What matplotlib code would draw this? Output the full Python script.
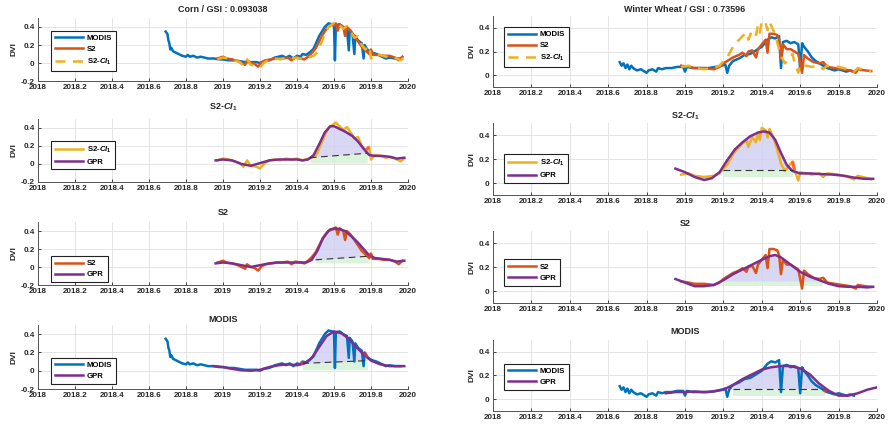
import numpy as np
import matplotlib
matplotlib.use("Agg")
import matplotlib.pyplot as plt

plt.rcParams['font.family'] = ['Liberation Sans', 'DejaVu Sans']
plt.rcParams['mathtext.fontset'] = 'custom'
plt.rcParams['mathtext.it'] = 'Liberation Sans:italic:bold'
plt.rcParams['mathtext.rm'] = 'Liberation Sans:bold'

# ---------------- data ----------------
xticks = [2018, 2018.2, 2018.4, 2018.6, 2018.8, 2019, 2019.2, 2019.4, 2019.6, 2019.8, 2020]
xtick_labels = ['2018', '2018.2', '2018.4', '2018.6', '2018.8', '2019', '2019.2', '2019.4', '2019.6', '2019.8', '2020']
corn_yticks = [-0.2, 0, 0.2, 0.4]
corn_ytick_labels = ['-0.2', '0', '0.2', '0.4']
wheat_yticks = [0, 0.2, 0.4]
wheat_ytick_labels = ['0', '0.2', '0.4']

corn_title = 'Corn / GSI : 0.093038'
wheat_title = 'Winter Wheat / GSI : 0.73596'

corn_modis = [(2018.69, 0.35), (2018.70, 0.32), (2018.705, 0.25), (2018.71, 0.22), (2018.715, 0.15), (2018.72, 0.17),
              (2018.73, 0.13), (2018.74, 0.12), (2018.76, 0.10), (2018.78, 0.08), (2018.80, 0.07), (2018.81, 0.09),
              (2018.82, 0.07), (2018.84, 0.08), (2018.86, 0.06), (2018.88, 0.07), (2018.90, 0.06), (2018.92, 0.05),
              (2018.95, 0.05), (2018.98, 0.04), (2019.00, 0.04), (2019.03, 0.03), (2019.06, 0.03), (2019.09, 0.02),
              (2019.12, 0.01), (2019.15, 0.01), (2019.18, 0.01), (2019.20, 0.00), (2019.22, 0.02), (2019.25, 0.03),
              (2019.28, 0.06), (2019.30, 0.07), (2019.32, 0.08), (2019.34, 0.06), (2019.36, 0.08), (2019.38, 0.05),
              (2019.40, 0.08), (2019.42, 0.07), (2019.43, 0.10), (2019.45, 0.09), (2019.47, 0.12), (2019.49, 0.16),
              (2019.52, 0.30), (2019.55, 0.40), (2019.57, 0.44), (2019.59, 0.43), (2019.60, 0.42), (2019.605, 0.03),
              (2019.61, 0.42), (2019.63, 0.43), (2019.65, 0.40), (2019.67, 0.38), (2019.68, 0.14), (2019.685, 0.36),
              (2019.70, 0.32), (2019.71, 0.10), (2019.715, 0.30), (2019.73, 0.25), (2019.75, 0.22), (2019.76, 0.05),
              (2019.765, 0.20), (2019.78, 0.15), (2019.80, 0.12), (2019.83, 0.10), (2019.86, 0.07), (2019.88, 0.05),
              (2019.90, 0.06), (2019.93, 0.05), (2019.96, 0.05)]

corn_s2 = [(2018.97, 0.05), (2019.00, 0.07), (2019.02, 0.05), (2019.05, 0.04), (2019.08, 0.02), (2019.10, 0.00),
           (2019.12, -0.02), (2019.13, 0.03), (2019.15, 0.00), (2019.17, -0.01), (2019.19, -0.04), (2019.21, 0.01),
           (2019.23, 0.03), (2019.26, 0.04), (2019.29, 0.05), (2019.32, 0.05), (2019.35, 0.06), (2019.37, 0.03),
           (2019.39, 0.06), (2019.42, 0.05), (2019.44, 0.04), (2019.46, 0.07), (2019.48, 0.11), (2019.50, 0.16),
           (2019.52, 0.24), (2019.54, 0.32), (2019.56, 0.38), (2019.58, 0.42), (2019.60, 0.42), (2019.61, 0.44),
           (2019.62, 0.36), (2019.63, 0.43), (2019.65, 0.40), (2019.66, 0.30), (2019.67, 0.40), (2019.69, 0.36),
           (2019.71, 0.30), (2019.73, 0.24), (2019.75, 0.18), (2019.77, 0.14), (2019.79, 0.10), (2019.80, 0.15),
           (2019.81, 0.09), (2019.84, 0.09), (2019.87, 0.08), (2019.90, 0.08), (2019.93, 0.06), (2019.95, 0.03),
           (2019.97, 0.07)]

corn_ci = [(2018.97, 0.04), (2019.00, 0.06), (2019.03, 0.05), (2019.06, 0.03), (2019.09, 0.01), (2019.11, -0.03),
           (2019.13, 0.04), (2019.15, -0.02), (2019.18, -0.03), (2019.20, -0.05), (2019.22, 0.00), (2019.25, 0.04),
           (2019.28, 0.05), (2019.31, 0.04), (2019.34, 0.06), (2019.37, 0.05), (2019.40, 0.06), (2019.43, 0.04),
           (2019.46, 0.06), (2019.49, 0.08), (2019.51, 0.12), (2019.53, 0.22), (2019.55, 0.32), (2019.57, 0.40),
           (2019.59, 0.43), (2019.61, 0.46), (2019.63, 0.42), (2019.65, 0.38), (2019.67, 0.41), (2019.69, 0.35),
           (2019.71, 0.28), (2019.73, 0.30), (2019.75, 0.20), (2019.77, 0.15), (2019.79, 0.19), (2019.80, 0.05),
           (2019.82, 0.10), (2019.85, 0.09), (2019.88, 0.07), (2019.91, 0.08), (2019.94, 0.05), (2019.96, 0.03),
           (2019.98, 0.06)]

corn_gpr_ci = [(2018.96, 0.04), (2019.00, 0.05), (2019.05, 0.04), (2019.10, 0.00), (2019.15, -0.02), (2019.20, 0.01),
               (2019.25, 0.04), (2019.30, 0.05), (2019.35, 0.05), (2019.40, 0.05), (2019.43, 0.04), (2019.46, 0.05),
               (2019.49, 0.10), (2019.52, 0.22), (2019.55, 0.35), (2019.58, 0.42), (2019.60, 0.42), (2019.63, 0.39),
               (2019.66, 0.36), (2019.70, 0.31), (2019.73, 0.25), (2019.76, 0.17), (2019.79, 0.10), (2019.82, 0.09),
               (2019.86, 0.09), (2019.90, 0.08), (2019.94, 0.06), (2019.98, 0.07)]

corn_gpr_s2 = [(2018.96, 0.04), (2019.00, 0.05), (2019.05, 0.04), (2019.10, 0.02), (2019.15, 0.00), (2019.20, 0.02),
               (2019.25, 0.04), (2019.30, 0.05), (2019.35, 0.05), (2019.40, 0.05), (2019.45, 0.05), (2019.48, 0.08),
               (2019.51, 0.18), (2019.54, 0.32), (2019.57, 0.40), (2019.60, 0.43), (2019.63, 0.42), (2019.66, 0.40),
               (2019.70, 0.33), (2019.73, 0.27), (2019.76, 0.20), (2019.79, 0.13), (2019.82, 0.10), (2019.86, 0.09),
               (2019.90, 0.08), (2019.94, 0.06), (2019.98, 0.07)]

corn_gpr_modis = [(2018.95, 0.05), (2019.00, 0.04), (2019.05, 0.02), (2019.10, 0.005), (2019.15, 0.00), (2019.20, 0.01),
                  (2019.25, 0.04), (2019.30, 0.06), (2019.35, 0.07), (2019.40, 0.06), (2019.44, 0.08), (2019.48, 0.14),
                  (2019.52, 0.26), (2019.56, 0.38), (2019.60, 0.43), (2019.64, 0.41), (2019.68, 0.35), (2019.72, 0.26),
                  (2019.76, 0.18), (2019.80, 0.11), (2019.85, 0.07), (2019.90, 0.05), (2019.95, 0.05), (2019.98, 0.05)]

wheat_modis = [(2018.66, 0.11), (2018.67, 0.08), (2018.68, 0.10), (2018.69, 0.06), (2018.70, 0.09), (2018.71, 0.05),
               (2018.72, 0.08), (2018.73, 0.06), (2018.75, 0.04), (2018.77, 0.05), (2018.79, 0.03), (2018.80, 0.02),
               (2018.81, 0.04), (2018.83, 0.05), (2018.85, 0.03), (2018.86, 0.06), (2018.88, 0.05), (2018.90, 0.06),
               (2018.93, 0.06), (2018.96, 0.07), (2018.99, 0.07), (2019.00, 0.03), (2019.01, 0.07), (2019.04, 0.06),
               (2019.08, 0.06), (2019.12, 0.06), (2019.16, 0.07), (2019.19, 0.08), (2019.21, 0.09), (2019.22, 0.02),
               (2019.23, 0.08), (2019.25, 0.12), (2019.28, 0.14), (2019.31, 0.17), (2019.34, 0.18), (2019.37, 0.21),
               (2019.40, 0.24), (2019.43, 0.30), (2019.45, 0.32), (2019.47, 0.31), (2019.49, 0.33), (2019.50, 0.06),
               (2019.51, 0.28), (2019.53, 0.29), (2019.55, 0.27), (2019.57, 0.28), (2019.59, 0.26), (2019.60, 0.05),
               (2019.61, 0.27), (2019.62, 0.24), (2019.64, 0.20), (2019.66, 0.15), (2019.68, 0.12), (2019.70, 0.10),
               (2019.72, 0.08), (2019.74, 0.06), (2019.76, 0.05), (2019.78, 0.04), (2019.80, 0.05), (2019.82, 0.04),
               (2019.84, 0.03), (2019.86, 0.04), (2019.88, 0.03)]

wheat_s2 = [(2018.98, 0.08), (2019.02, 0.07), (2019.05, 0.06), (2019.10, 0.06), (2019.15, 0.05), (2019.18, 0.07),
            (2019.20, 0.10), (2019.22, 0.12), (2019.25, 0.15), (2019.28, 0.17), (2019.30, 0.19), (2019.32, 0.16),
            (2019.33, 0.20), (2019.35, 0.21), (2019.37, 0.15), (2019.38, 0.22), (2019.40, 0.26), (2019.42, 0.30),
            (2019.43, 0.19), (2019.44, 0.35), (2019.46, 0.35), (2019.48, 0.34), (2019.49, 0.30), (2019.50, 0.14),
            (2019.51, 0.26), (2019.53, 0.22), (2019.55, 0.22), (2019.57, 0.20), (2019.59, 0.18), (2019.61, 0.02),
            (2019.62, 0.17), (2019.64, 0.14), (2019.67, 0.11), (2019.70, 0.10), (2019.72, 0.11), (2019.74, 0.07),
            (2019.78, 0.06), (2019.82, 0.05), (2019.86, 0.04), (2019.89, 0.02), (2019.90, 0.05), (2019.94, 0.04),
            (2019.97, 0.035)]

wheat_ci = [(2018.98, 0.07), (2019.02, 0.08), (2019.05, 0.06), (2019.10, 0.05), (2019.15, 0.06), (2019.18, 0.08),
            (2019.20, 0.12), (2019.22, 0.15), (2019.25, 0.24), (2019.27, 0.28), (2019.30, 0.33), (2019.32, 0.36),
            (2019.33, 0.30), (2019.35, 0.38), (2019.37, 0.34), (2019.38, 0.42), (2019.39, 0.36), (2019.40, 0.46),
            (2019.42, 0.44), (2019.43, 0.38), (2019.44, 0.45), (2019.46, 0.38), (2019.48, 0.28), (2019.50, 0.16),
            (2019.52, 0.10), (2019.54, 0.14), (2019.56, 0.18), (2019.57, 0.11), (2019.59, 0.02), (2019.60, 0.09),
            (2019.63, 0.08), (2019.66, 0.07), (2019.70, 0.08), (2019.72, 0.05), (2019.74, 0.08), (2019.80, 0.07),
            (2019.85, 0.05), (2019.88, 0.03), (2019.90, 0.06), (2019.95, 0.04), (2019.97, 0.03)]

wheat_gpr_ci = [(2018.95, 0.12), (2019.00, 0.09), (2019.05, 0.05), (2019.10, 0.025), (2019.14, 0.04), (2019.18, 0.09),
                (2019.22, 0.19), (2019.26, 0.28), (2019.30, 0.34), (2019.34, 0.39), (2019.38, 0.42), (2019.41, 0.43),
                (2019.44, 0.42), (2019.47, 0.36), (2019.50, 0.25), (2019.53, 0.15), (2019.56, 0.10), (2019.60, 0.08),
                (2019.65, 0.08), (2019.70, 0.075), (2019.77, 0.07), (2019.83, 0.06), (2019.88, 0.045), (2019.93, 0.035),
                (2019.98, 0.035)]

wheat_gpr_s2 = [(2018.95, 0.10), (2019.00, 0.07), (2019.05, 0.04), (2019.10, 0.04), (2019.15, 0.05), (2019.20, 0.09),
                (2019.25, 0.14), (2019.30, 0.18), (2019.35, 0.22), (2019.40, 0.26), (2019.44, 0.29), (2019.47, 0.30),
                (2019.50, 0.28), (2019.55, 0.22), (2019.60, 0.16), (2019.65, 0.12), (2019.70, 0.09), (2019.75, 0.06),
                (2019.80, 0.04), (2019.85, 0.035), (2019.90, 0.035), (2019.95, 0.03), (2019.98, 0.035)]

wheat_gpr_modis = [(2018.90, 0.05), (2018.95, 0.06), (2019.00, 0.06), (2019.05, 0.065), (2019.10, 0.06), (2019.15, 0.065),
                   (2019.20, 0.08), (2019.25, 0.12), (2019.30, 0.17), (2019.35, 0.21), (2019.40, 0.25), (2019.45, 0.27),
                   (2019.50, 0.28), (2019.55, 0.28), (2019.60, 0.26), (2019.65, 0.21), (2019.70, 0.13), (2019.75, 0.07),
                   (2019.80, 0.03), (2019.85, 0.03), (2019.90, 0.05), (2019.95, 0.08), (2020.00, 0.10)]

# season: (start, start baseline, end, end baseline, green bottom, draw dashed)
corn_season_ci = (2019.47, 0.07, 2019.78, 0.12, 0.01, True)
corn_season_s2 = (2019.50, 0.08, 2019.79, 0.12, 0.045, True)
corn_season_modis = (2019.43, 0.08, 2019.78, 0.11, 0.01, True)
wheat_season_ci = (2019.20, 0.11, 2019.56, 0.11, 0.05, True)
wheat_season_s2 = (2019.20, 0.08, 2019.72, 0.08, 0.04, False)
wheat_season_modis = (2019.25, 0.09, 2019.73, 0.09, 0.03, True)

# ---------------- style ----------------
BLUE = '#0072BD'
ORANGE = '#D95319'
YELLOW = '#EDB120'
PURPLE = '#7E2F8E'
TXT = '#262626'
LW = 1.8

W, H = 894, 429
fig = plt.figure(figsize=(W / 100, H / 100), dpi=100)


def arr(pairs):
    a = np.array(pairs, dtype=float)
    return a[:, 0], a[:, 1]


def make_ax(x0, x1, top, bottom, ylim, yt, ytl):
    ax = fig.add_axes([x0 / W, 1 - bottom / H, (x1 - x0) / W, (bottom - top) / H])
    ax.set_xlim(2018, 2020)
    ax.set_ylim(*ylim)
    ax.set_xticks(xticks)
    ax.set_xticklabels(xtick_labels)
    ax.set_yticks(yt)
    ax.set_yticklabels(ytl)
    ax.grid(True, color='#e0e0e0', lw=0.6)
    ax.set_axisbelow(True)
    ax.tick_params(direction='in', length=2, width=0.6, labelsize=5.8, colors=TXT, pad=2.5)
    for lab in ax.get_xticklabels() + ax.get_yticklabels():
        lab.set_fontweight('bold')
    for s in ['top', 'right']:
        ax.spines[s].set_visible(False)
    for s in ['left', 'bottom']:
        ax.spines[s].set_color('#555555')
        ax.spines[s].set_linewidth(0.7)
    ax.set_ylabel('DVI', fontsize=6.0, fontweight='bold', color=TXT, labelpad=2)
    return ax


def legend(ax, top, left=0.025):
    lg = ax.legend(loc='upper left', bbox_to_anchor=(left, top), handlelength=3.6,
                   handletextpad=0.5, borderpad=0.5, labelspacing=0.45, fancybox=False,
                   framealpha=1, edgecolor='#222222', prop={'weight': 'bold', 'size': 5.6})
    lg.get_frame().set_linewidth(0.8)
    return lg


def season(ax, gpr, raw, se):
    s, bs, e, be, gb, dashed = se
    gx, gy = gpr
    m = (gx > s) & (gx < e)
    xs = np.concatenate([[s], gx[m], [e]])
    ys = np.interp(xs, gx, gy)
    base = bs + (xs - s) * (be - bs) / (e - s)
    ax.fill_between(xs, base, ys, color='#cfcff2', alpha=0.8, lw=0, zorder=1)
    ax.fill_between([s, e], [bs, be], [gb, gb], color='#d3f0d3', alpha=0.8, lw=0, zorder=1)
    if dashed:
        ax.plot([s, e], [bs, be], color='#333333', lw=0.8, ls=(0, (6, 4)), zorder=4)
    return s, e


def red_marks(ax, raw, s, e):
    rx, ry = raw
    for c in (s, e):
        mm = (rx >= c - 0.018) & (rx <= c + 0.018)
        ax.plot(rx[mm], ry[mm], color='#ff3030', lw=2.6, alpha=0.55, zorder=5, solid_capstyle='butt')


def gpr_panel(ax, raw, raw_color, raw_label, gpr, se, leg_top, left=0.025):
    rx, ry = raw
    gx, gy = gpr
    s, e = season(ax, gpr, raw, se)
    ax.plot(rx, ry, color=raw_color, lw=LW, label=raw_label, zorder=2)
    ax.plot(gx, gy, color=PURPLE, lw=LW, label='GPR', zorder=3)
    red_marks(ax, raw, s, e)
    legend(ax, leg_top, left)


CI_LABEL = r'S2-$\mathit{CI}_1$'

# ---------------- left column: corn ----------------
LX0, LX1 = 38, 408
lt = [(18, 81), (119, 182), (222, 285), (325, 389)]
ltitle_y = [10, 107, 213, 319]
corn_axes = [make_ax(LX0, LX1, t, b, (-0.2, 0.5), corn_yticks, corn_ytick_labels) for t, b in lt]

ax = corn_axes[0]
x, y = arr(corn_modis); ax.plot(x, y, color=BLUE, lw=LW, label='MODIS')
x, y = arr(corn_s2); ax.plot(x, y, color=ORANGE, lw=LW, label='S2')
x, y = arr(corn_ci); ax.plot(x, y, color=YELLOW, lw=LW, ls=(0, (4, 3)), label=CI_LABEL)
legend(ax, 0.86)

gpr_panel(corn_axes[1], arr(corn_ci), YELLOW, CI_LABEL, arr(corn_gpr_ci), corn_season_ci, 0.72)
gpr_panel(corn_axes[2], arr(corn_s2), ORANGE, 'S2', arr(corn_gpr_s2), corn_season_s2, 0.52)
gpr_panel(corn_axes[3], arr(corn_modis), BLUE, 'MODIS', arr(corn_gpr_modis), corn_season_modis, 0.55)

left_titles = [corn_title, CI_LABEL, 'S2', 'MODIS']
for ty, tt in zip(ltitle_y, left_titles):
    fig.text((LX0 + LX1) / 2 / W, 1 - ty / H, tt, ha='center', va='center', fontsize=6.5,
             fontweight='bold', color=TXT)

# ---------------- right column: winter wheat ----------------
RX0, RX1 = 493, 877
rt = [(16, 87), (123, 195), (231, 303), (340, 411)]
rtitle_y = [9, 116, 224, 332]
wheat_axes = [make_ax(RX0, RX1, t, b, (-0.1, 0.5), wheat_yticks, wheat_ytick_labels) for t, b in rt]

ax = wheat_axes[0]
x, y = arr(wheat_modis); ax.plot(x, y, color=BLUE, lw=LW, label='MODIS')
x, y = arr(wheat_s2); ax.plot(x, y, color=ORANGE, lw=LW, label='S2')
x, y = arr(wheat_ci); ax.plot(x, y, color=YELLOW, lw=LW, ls=(0, (4, 3)), label=CI_LABEL)
legend(ax, 0.9, left=0.018)

gpr_panel(wheat_axes[1], arr(wheat_ci), YELLOW, CI_LABEL, arr(wheat_gpr_ci), wheat_season_ci, 0.62, 0.018)
gpr_panel(wheat_axes[2], arr(wheat_s2), ORANGE, 'S2', arr(wheat_gpr_s2), wheat_season_s2, 0.66, 0.018)
gpr_panel(wheat_axes[3], arr(wheat_modis), BLUE, 'MODIS', arr(wheat_gpr_modis), wheat_season_modis, 0.72, 0.018)

right_titles = [wheat_title, CI_LABEL, 'S2', 'MODIS']
for ty, tt in zip(rtitle_y, right_titles):
    fig.text((RX0 + RX1) / 2 / W, 1 - ty / H, tt, ha='center', va='center', fontsize=6.5,
             fontweight='bold', color=TXT)

fig.savefig('out.png', dpi=100)
